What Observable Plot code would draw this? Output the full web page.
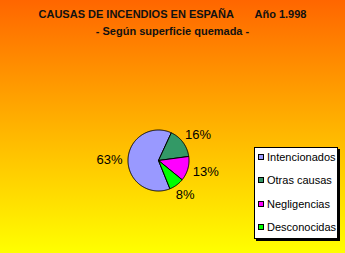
<!DOCTYPE html>
<html><head><meta charset="utf-8">
<script src="https://cdn.jsdelivr.net/npm/d3@7"></script>
<script src="https://cdn.jsdelivr.net/npm/@observablehq/plot@0.6"></script>
<style>
html,body{margin:0;padding:0;}
#chart{position:relative;width:345px;height:253px;background:linear-gradient(to bottom,#FF6600,#FFFF00);font-family:"Liberation Sans",Arial,sans-serif;overflow:hidden;}
#title{position:absolute;left:0;top:6px;width:345px;text-align:center;font-weight:bold;font-size:11px;line-height:17px;white-space:pre;color:#111;}
#plot{position:absolute;left:0;top:0;}
#legend{position:absolute;left:254px;top:147px;width:82px;height:90px;background:#fff;border:1px solid #000;box-shadow:2px 2px 0 #000;}
.item{position:absolute;left:3px;height:14px;font-size:11px;line-height:14px;white-space:nowrap;color:#000;}
.sw{position:absolute;left:0;top:4px;width:4px;height:4px;border:1px solid #000;}
.lt{position:absolute;left:9px;top:0;}
</style>
</head><body>
<div id="chart">
  <div id="plot"></div>
  <div id="title"></div>
  <div id="legend"></div>
</div>
<script>
const titleLine = "CAUSAS DE INCENDIOS EN ESPAÑA       Año 1.998";
const subtitleLine = "- Según superficie quemada -";
const categories = ["Intencionados", "Otras causas", "Negligencias", "Desconocidas"];
const values = [63, 16, 13, 8];
const labels = ["63%", "16%", "13%", "8%"];
const colors = ["#9999FF", "#339966", "#FF00FF", "#00FF00"];

document.getElementById("title").textContent = titleLine + "\n" + subtitleLine;

const R = 30.5;           // pie radius in px
const cx = 158, cy = 160; // pie centre in px
const W = 345, H = 253;
const startDeg = 158;
const start = startDeg * Math.PI / 180;
const arcs = d3.pie().sort(null).startAngle(start).endAngle(start + 2 * Math.PI)(values);

const pts = [];
arcs.forEach((s, i) => {
  const cat = categories[i];
  pts.push({cat, x: 0, y: 0});
  const n = Math.max(2, Math.ceil((s.endAngle - s.startAngle) / (Math.PI / 180)));
  for (let k = 0; k <= n; k++) {
    const a = s.startAngle + (s.endAngle - s.startAngle) * k / n;
    pts.push({cat, x: Math.sin(a), y: Math.cos(a)});
  }
  pts.push({cat, x: 0, y: 0});
});

const lab = arcs.map((s, i) => {
  const m = (s.startAngle + s.endAngle) / 2;
  const w = labels[i].length * 8.3, h = 12;
  const sx = Math.sin(m), sy = Math.cos(m);
  return {
    text: labels[i],
    x: sx * 1.2 + sx * (w / 2) / R,
    y: sy * 1.2 + sy * (h / 2) / R
  };
});

const plot = Plot.plot({
  width: W, height: H, margin: 0,
  style: {background: "transparent", fontFamily: "'Liberation Sans', Arial, sans-serif"},
  x: {domain: [-cx / R, (W - cx) / R], axis: null},
  y: {domain: [-(H - cy) / R, cy / R], axis: null},
  color: {domain: categories, range: colors},
  marks: [
    Plot.line(pts, {x: "x", y: "y", z: "cat", fill: "cat", stroke: "#000", strokeWidth: 1, curve: "linear", strokeLinejoin: "round"}),
    Plot.text(lab, {x: "x", y: "y", text: "text", fontSize: 13, fill: "#000", textAnchor: "middle", lineAnchor: "middle"})
  ]
});
document.getElementById("plot").appendChild(plot);

const legend = document.getElementById("legend");
categories.forEach((c, i) => {
  const it = document.createElement("div");
  it.className = "item";
  it.style.top = (2 + i * 23.3) + "px";
  const sw = document.createElement("div");
  sw.className = "sw";
  sw.style.background = colors[i];
  const t = document.createElement("span");
  t.className = "lt";
  t.textContent = c;
  it.appendChild(sw); it.appendChild(t);
  legend.appendChild(it);
});
</script>
</body></html>
